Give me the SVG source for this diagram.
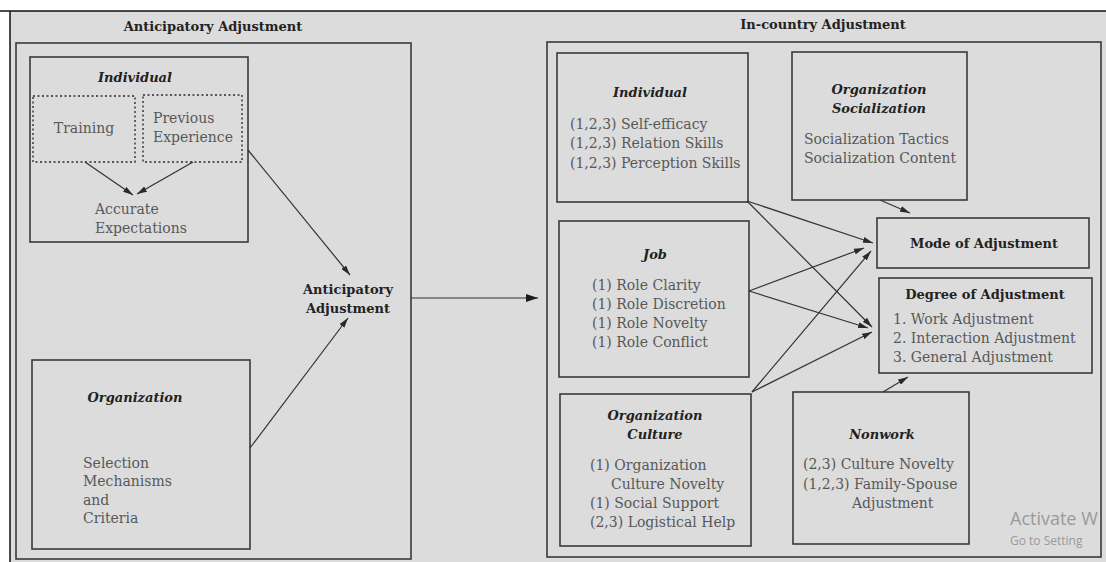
<svg xmlns="http://www.w3.org/2000/svg" width="1106" height="562" viewBox="0 0 1106 562">
<defs>
<marker id="ah" viewBox="0 0 10 6" refX="10" refY="3" markerWidth="10" markerHeight="6" orient="auto" markerUnits="userSpaceOnUse">
<path d="M0,0 L10,3 L0,6 z" fill="#2a2a2a"/>
</marker>
<marker id="ahb" viewBox="0 0 12 8" refX="12" refY="4" markerWidth="12" markerHeight="8" orient="auto" markerUnits="userSpaceOnUse">
<path d="M0,0 L12,4 L0,8 z" fill="#1a1a1a"/>
</marker>
</defs>
<style>
.box{fill:none;stroke:#3a3a3a;stroke-width:1.6}
.dot{fill:none;stroke:#555;stroke-width:1.8;stroke-dasharray:2 2.5}
.t{font-family:"DejaVu Serif","Liberation Serif",serif;font-size:13px;font-weight:bold;fill:#222}
.ti{font-family:"DejaVu Serif","Liberation Serif",serif;font-size:13px;font-weight:bold;font-style:italic;fill:#222;text-anchor:middle}
.b{font-family:"DejaVu Serif","Liberation Serif",serif;font-size:14px;fill:#585858}
.c{text-anchor:middle}
.ln{stroke:#333;stroke-width:1.2;fill:none}
.wm{font-family:"Open Sans","Noto Sans",sans-serif;fill:#9a9a9a}
</style>
<rect x="0" y="0" width="1106" height="562" fill="#ffffff"/>
<rect x="10" y="11" width="1096" height="551" fill="#dcdcdc"/>
<line x1="0" y1="11" x2="1106" y2="11" stroke="#111" stroke-width="1.5"/>
<line x1="10" y1="11" x2="10" y2="562" stroke="#111" stroke-width="1.5"/>

<g id="anticipatory-frame">
<rect class="box" x="16" y="43" width="395" height="516"/>
<text class="t c" x="213" y="31">Anticipatory Adjustment</text>
</g>

<g id="ant-individual">
<rect class="box" x="30" y="57" width="218" height="185"/>
<text class="ti" x="135" y="82">Individual</text>
</g>
<g id="training">
<rect class="dot" x="33" y="96" width="102" height="66"/>
<text class="b c" x="84" y="133">Training</text>
</g>
<g id="previous-experience">
<rect class="dot" x="143" y="95" width="99" height="67"/>
<text class="b" x="153" y="123">Previous</text>
<text class="b" x="153" y="142">Experience</text>
</g>
<g id="accurate-expectations">
<text class="b" x="95" y="214">Accurate</text>
<text class="b" x="95" y="233">Expectations</text>
</g>

<g id="ant-organization">
<rect class="box" x="32" y="360" width="218" height="189"/>
<text class="ti" x="135" y="402">Organization</text>
<text class="b" x="83" y="468">Selection</text>
<text class="b" x="83" y="486">Mechanisms</text>
<text class="b" x="83" y="505">and</text>
<text class="b" x="83" y="523">Criteria</text>
</g>

<g id="anticipatory-adjustment">
<text class="t c" x="348" y="294">Anticipatory</text>
<text class="t c" x="348" y="313">Adjustment</text>
</g>

<g id="incountry-frame">
<rect class="box" x="547" y="42" width="554" height="515"/>
<text class="t c" x="823" y="29">In-country Adjustment</text>
</g>

<g id="ic-individual">
<rect class="box" x="557" y="53" width="191" height="149"/>
<text class="ti" x="650" y="97">Individual</text>
<text class="b" x="570" y="129">(1,2,3) Self-efficacy</text>
<text class="b" x="570" y="148">(1,2,3) Relation Skills</text>
<text class="b" x="570" y="168">(1,2,3) Perception Skills</text>
</g>

<g id="job">
<rect class="box" x="559" y="221" width="190" height="156"/>
<text class="ti" x="655" y="259">Job</text>
<text class="b" x="592" y="290">(1) Role Clarity</text>
<text class="b" x="592" y="309">(1) Role Discretion</text>
<text class="b" x="592" y="328">(1) Role Novelty</text>
<text class="b" x="592" y="347">(1) Role Conflict</text>
</g>

<g id="organization-culture">
<rect class="box" x="560" y="394" width="191" height="152"/>
<text class="ti" x="655" y="420">Organization</text>
<text class="ti" x="655" y="439">Culture</text>
<text class="b" x="590" y="470">(1) Organization</text>
<text class="b" x="611" y="489">Culture Novelty</text>
<text class="b" x="590" y="508">(1) Social Support</text>
<text class="b" x="590" y="527">(2,3) Logistical Help</text>
</g>

<g id="organization-socialization">
<rect class="box" x="792" y="52" width="175" height="148"/>
<text class="ti" x="879" y="94">Organization</text>
<text class="ti" x="879" y="113">Socialization</text>
<text class="b" x="804" y="144">Socialization Tactics</text>
<text class="b" x="804" y="163">Socialization Content</text>
</g>

<g id="mode-of-adjustment">
<rect class="box" x="877" y="218" width="212" height="50"/>
<text class="t c" x="984" y="248">Mode of Adjustment</text>
</g>

<g id="degree-of-adjustment">
<rect class="box" x="879" y="278" width="213" height="95"/>
<text class="t c" x="985" y="299">Degree of Adjustment</text>
<text class="b" x="893" y="324">1. Work Adjustment</text>
<text class="b" x="893" y="343">2. Interaction Adjustment</text>
<text class="b" x="893" y="362">3. General Adjustment</text>
</g>

<g id="nonwork">
<rect class="box" x="793" y="392" width="176" height="152"/>
<text class="ti" x="882" y="439">Nonwork</text>
<text class="b" x="803" y="469">(2,3) Culture Novelty</text>
<text class="b" x="803" y="489">(1,2,3) Family-Spouse</text>
<text class="b" x="852" y="508">Adjustment</text>
</g>

<g id="connectors">
<line class="ln" x1="85" y1="162" x2="133" y2="195" marker-end="url(#ah)"/>
<line class="ln" x1="193" y1="162" x2="137" y2="194" marker-end="url(#ah)"/>
<line class="ln" x1="248" y1="150" x2="350" y2="275" marker-end="url(#ah)"/>
<line class="ln" x1="250" y1="448" x2="348" y2="318" marker-end="url(#ah)"/>
<line class="ln" x1="411" y1="298" x2="538" y2="298" stroke-width="1.6" marker-end="url(#ahb)"/>
<line class="ln" x1="747" y1="201" x2="873" y2="243" marker-end="url(#ah)"/>
<line class="ln" x1="747" y1="201" x2="872" y2="327" marker-end="url(#ah)"/>
<line class="ln" x1="749" y1="291" x2="864" y2="248" marker-end="url(#ah)"/>
<line class="ln" x1="749" y1="291" x2="868" y2="328" marker-end="url(#ah)"/>
<line class="ln" x1="752" y1="392" x2="871" y2="251" marker-end="url(#ah)"/>
<line class="ln" x1="752" y1="392" x2="872" y2="332" marker-end="url(#ah)"/>
<line class="ln" x1="880" y1="200" x2="910" y2="213" marker-end="url(#ah)"/>
<line class="ln" x1="883" y1="392" x2="908" y2="377" marker-end="url(#ah)"/>
</g>

<g id="watermark">
<text class="wm" x="1010" y="525" font-size="18">Activate W</text>
<text class="wm" x="1010" y="545" font-size="12">Go to Setting</text>
</g>
</svg>
